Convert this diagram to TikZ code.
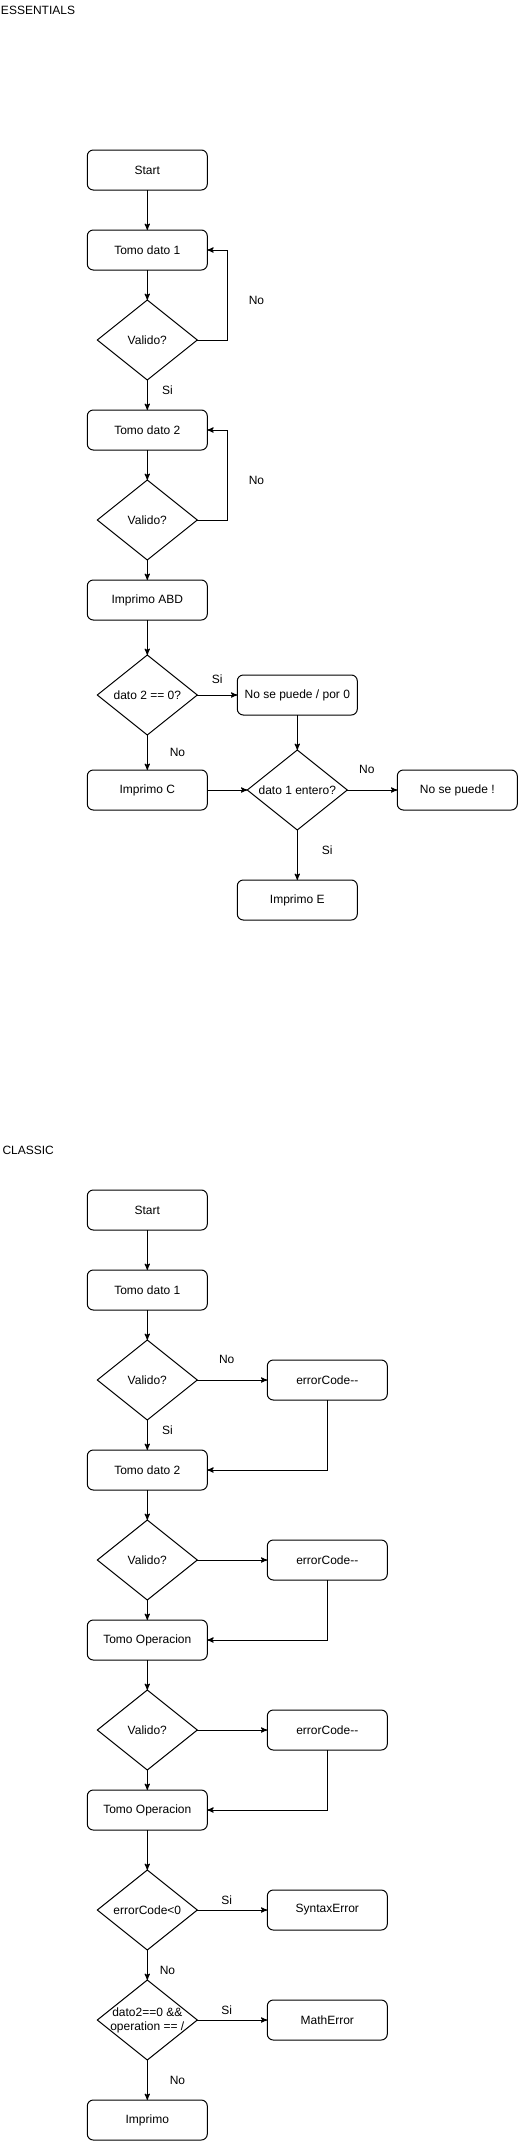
\documentclass[tikz,border=0pt]{standalone}
\usepackage{fontspec}
\newfontfamily\drawfont{Liberation Sans}
\usepackage{tikz}
\usetikzlibrary{arrows,positioning,shapes.geometric}
\tikzset{
    %Define standard arrow tip
    >=stealth',
    %Define style for boxes
    paso/.style={
           rectangle,
           rounded corners=4.5pt,
           draw=black, line width=0.75pt,
           minimum width=90pt,
           minimum height=30pt,
           inner sep=0pt, outer sep=0pt,
           text centered},
    pregunta/.style={
           diamond,
           aspect=1.25,
           draw=black, line width=0.75pt,
           minimum width=75pt,
           minimum height=60pt,
           inner sep=0pt, outer sep=0pt,
           align=center},
    % Define style for labels
    etiqueta/.style={inner sep=0pt},
    titulo/.style={anchor=west, inner sep=0pt}
}

\begin{document}
\begin{tikzpicture}[x=0.75pt,y=-0.75pt,->,line width=0.75pt,
  font=\drawfont\fontsize{9pt}{10.5pt}\selectfont]
\useasboundingbox (0,0) rectangle (518,2141);
% ESSENTIALS
\node[titulo](ess) at (0.5,10){ESSENTIALS};
\node[paso](1) at (147.3,170){Start};
\node[paso, below=30pt of 1](2){Tomo dato 1};
\node[pregunta, below=22.5pt of 2](3){Valido?};
\node[paso, below=22.5pt of 3](4){Tomo dato 2};
\node[pregunta, below=22.5pt of 4](5){Valido?};
\node[paso, below=15pt of 5](6){Imprimo ABD};
\node[pregunta, below=26.25pt of 6](7){dato 2 == 0?};
\node[paso, right=30pt of 7](8){No se puede / por 0};
\node[paso, below=26.25pt of 7](9){Imprimo C};
\node[pregunta, right=30pt of 9](10){dato 1 entero?};
\node[paso, right=37.5pt of 10](11){No se puede !};
\node[paso, below=37.5pt of 10](12){Imprimo E};
 \path[every node/.style={etiqueta}]
    (1) edge (2)
    (2) edge (3)
    (3) edge node[right=10.8pt, yshift=3.75pt] {Si} (4)
    (4) edge (5)
    (5) edge (6)
    (6) edge (7)
    (7) edge node[above=8pt] {Si} (8)
    (7) edge node[right=16.5pt] {No} (9)
    (9) edge (10)
    (8) edge (10)
    (10) edge node[pos=0.39, above=11.6pt] {No} (11)
    (10) edge node[right=18pt, yshift=3.75pt] {Si} (12);
\draw (3.east) -- ++(30,0) |- node[etiqueta, pos=0.25, right=15.75pt, yshift=-3.75pt] {No} (2.east);
\draw (5.east) -- ++(30,0) |- node[etiqueta, pos=0.25, right=15.75pt, yshift=-3.75pt] {No} (4.east);
% CLASSIC
\node[titulo](cla) at (2,1150){CLASSIC};
\node[paso](13) at (147.3,1210){Start};
\node[paso, below=30pt of 13](14){Tomo dato 1};
\node[pregunta, below=22.5pt of 14](15){Valido?};
\node[paso, right=52.5pt of 15](16){errorCode--};
\node[paso, below=22.5pt of 15](17){Tomo dato 2};
\node[pregunta, below=22.5pt of 17](18){Valido?};
\node[paso, right=52.5pt of 18](19){errorCode--};
\node[paso, below=15pt of 18](20){Tomo Operacion};
\node[pregunta, below=22.5pt of 20](21){Valido?};
\node[paso, right=52.5pt of 21](22){errorCode--};
\node[paso, below=15pt of 21](23){Tomo Operacion};
\node[pregunta, below=30pt of 23](24){errorCode<0};
\node[paso, right=52.5pt of 24](25){SyntaxError};
\node[pregunta, inner sep=-4pt, below=22.5pt of 24](26){dato2==0 \&\&\\operation == /};
\node[paso, right=52.5pt of 26](27){MathError};
\node[paso, below=30pt of 26](28){Imprimo};
 \path[every node/.style={etiqueta}]
    (13) edge (14)
    (14) edge (15)
    (15) edge node[pos=0.42, above=11.6pt] {No} (16)
    (15) edge node[right=10.8pt, yshift=3.75pt] {Si} (17)
    (17) edge (18)
    (18) edge (19)
    (18) edge (20)
    (20) edge (21)
    (21) edge (22)
    (21) edge (23)
    (23) edge (24)
    (24) edge node[pos=0.42, above=4pt] {Si} (25)
    (24) edge node[right=9pt, yshift=-3.75pt] {No} (26)
    (26) edge node[pos=0.42, above=4pt] {Si} (27)
    (26) edge node[right=16.5pt] {No} (28);
\draw (16) |- (17);
\draw (19) |- (20);
\draw (22) |- (23);
\end{tikzpicture}
\end{document}
